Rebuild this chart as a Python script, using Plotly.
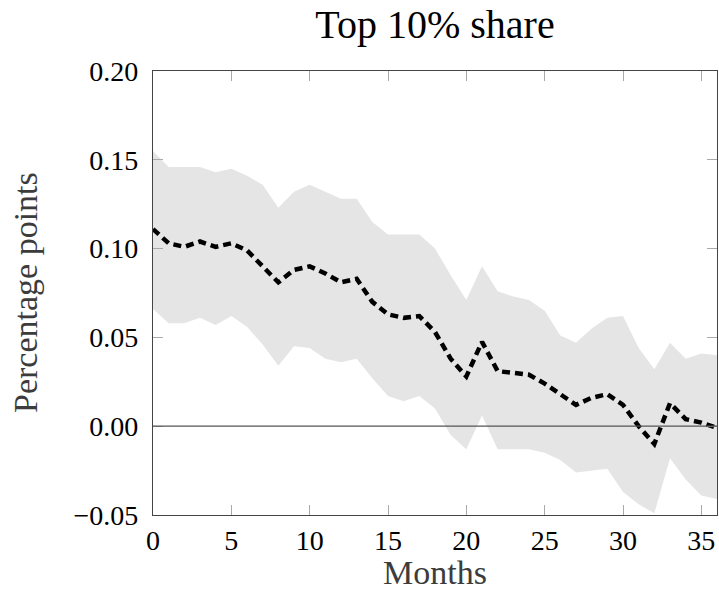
import plotly.graph_objects as go

months = list(range(37))
mean_irf = [0.111, 0.103, 0.101, 0.104, 0.101, 0.103, 0.099, 0.090, 0.081, 0.088,
            0.090, 0.086, 0.081, 0.083, 0.070, 0.063, 0.061, 0.062, 0.053, 0.038,
            0.028, 0.0475, 0.031, 0.030, 0.029, 0.024, 0.018, 0.012, 0.016, 0.018,
            0.012, 0.000, -0.010, 0.013, 0.004, 0.002, -0.001]
upper = [0.155, 0.146, 0.146, 0.146, 0.143, 0.145, 0.141, 0.136, 0.123, 0.132,
         0.136, 0.132, 0.128, 0.128, 0.115, 0.108, 0.108, 0.108, 0.100, 0.085,
         0.071, 0.090, 0.076, 0.073, 0.071, 0.065, 0.051, 0.047, 0.055, 0.061,
         0.062, 0.044, 0.032, 0.047, 0.038, 0.041, 0.040]
lower = [0.066, 0.058, 0.058, 0.061, 0.057, 0.062, 0.056, 0.046, 0.034, 0.045,
         0.044, 0.038, 0.036, 0.038, 0.027, 0.017, 0.014, 0.017, 0.010, -0.005,
         -0.013, 0.006, -0.013, -0.013, -0.013, -0.015, -0.019, -0.026, -0.025, -0.024,
         -0.037, -0.044, -0.049, -0.018, -0.030, -0.039, -0.041]
x_ticks = [0, 5, 10, 15, 20, 25, 30, 35]
y_ticks = [-0.05, 0.0, 0.05, 0.10, 0.15, 0.20]
y_tick_text = ["\u22120.05", "0.00", "0.05", "0.10", "0.15", "0.20"]

FONT = "Liberation Serif"
W, H = 719, 594
ML, MR, MT, MB = 153, 2, 71, 79
PW, PH = W - ML - MR, H - MT - MB

fig = go.Figure()
fig.add_trace(go.Scatter(x=months, y=upper, mode="lines", line=dict(width=0),
                         showlegend=False, hoverinfo="skip"))
fig.add_trace(go.Scatter(x=months, y=lower, mode="lines", line=dict(width=0),
                         fill="tonexty", fillcolor="#e5e5e5",
                         showlegend=False, hoverinfo="skip"))
fig.add_hline(y=0, line=dict(color="#555555", width=1.2))
fig.add_trace(go.Scatter(x=months, y=mean_irf, mode="lines",
                         line=dict(color="black", width=4.5, dash="8px,5px"),
                         showlegend=False))

axis_common = dict(showgrid=False, zeroline=False, showline=True, linecolor="#444444",
                   linewidth=1.2, mirror="ticks", ticks="inside", ticklen=10,
                   tickcolor="#aaaaaa", tickwidth=1, automargin=False,
                   tickfont=dict(family=FONT, size=28, color="black"))

fig.update_xaxes(range=[0, 36], tickvals=x_ticks, ticktext=[str(t) for t in x_ticks],
                 **axis_common)
fig.update_yaxes(range=[-0.05, 0.20], tickvals=y_ticks, ticktext=y_tick_text,
                 ticklabelstandoff=8, **axis_common)

fig.add_annotation(text="Months", xref="paper", yref="paper",
                   x=0.5, y=-(593 - (MT + PH)) / PH, xanchor="center", yanchor="bottom",
                   showarrow=False, font=dict(family=FONT, size=34, color="#3c3c3c"))
fig.add_annotation(text="Percentage points", xref="paper", yref="paper",
                   x=(25 - ML) / PW, y=0.5, xanchor="center", yanchor="middle",
                   textangle=-90, showarrow=False,
                   font=dict(family=FONT, size=34, color="#3c3c3c"))

fig.update_layout(
    width=W, height=H,
    margin=dict(l=ML, r=MR, t=MT, b=MB),
    plot_bgcolor="white", paper_bgcolor="white",
    title=dict(text="Top 10% share", x=(ML + PW / 2) / W, xanchor="center",
               yref="container", y=1 - 24 / H, yanchor="middle",
               font=dict(family=FONT, size=40, color="black")),
)

fig.write_html("out.html",
               config={"displayModeBar": False},
               post_script="document.body.style.margin='0';"
                           "document.body.style.overflow='hidden';"
                           "document.documentElement.style.overflow='hidden';")
